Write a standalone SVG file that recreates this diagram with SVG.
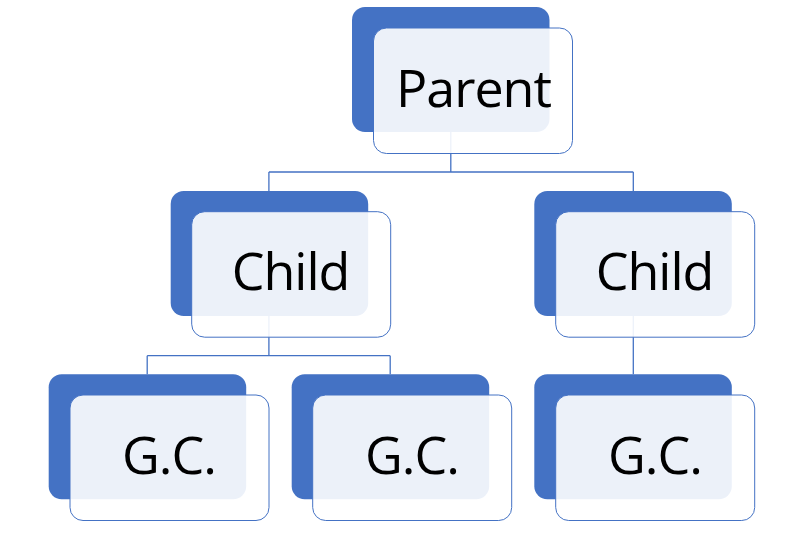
<svg xmlns="http://www.w3.org/2000/svg" width="800" height="543" viewBox="0 0 800 543">
<style>
.back{fill:#4472C4;}
.front{fill:#FFFFFF;fill-opacity:0.9;stroke:#4472C4;stroke-width:1;}
.lbl{font-family:"Open Sans","Noto Sans","DejaVu Sans",sans-serif;font-size:52px;letter-spacing:-1px;fill:#000000;text-anchor:middle;}
.conn{fill:none;stroke:#4472C4;stroke-width:1.3;}
</style>
<rect width="800" height="543" fill="#FFFFFF"/>
<g id="connectors">
<path class="conn" d="M450.8,132 V172 M268.9,172 H633.3 M268.9,172 V191 M633.3,172 V191"/>
<path class="conn" d="M268.9,315 V355.7 M147.2,355.7 H390.2 M147.2,355.7 V374.3 M390.2,355.7 V374.3"/>
<path class="conn" d="M633.3,315 V374.3"/>
</g>
<g id="parent">
<rect class="back" x="352" y="7" width="197.5" height="125" rx="13"/>
<rect class="front" x="373.5" y="28" width="199" height="125.5" rx="13"/>
<text class="lbl" x="473.5" y="107">Parent</text>
</g>
<g id="child-left">
<rect class="back" x="170.7" y="191" width="197.5" height="125" rx="13"/>
<rect class="front" x="191.7" y="211.7" width="199" height="125.5" rx="13"/>
<text class="lbl" x="290.5" y="290">Child</text>
</g>
<g id="child-right">
<rect class="back" x="534.3" y="191" width="197.5" height="125" rx="13"/>
<rect class="front" x="555.7" y="211.7" width="199" height="125.5" rx="13"/>
<text class="lbl" x="654.5" y="290">Child</text>
</g>
<g id="gc-left">
<rect class="back" x="48.7" y="374.3" width="197.5" height="125" rx="13"/>
<rect class="front" x="70" y="395" width="199" height="125.5" rx="13"/>
<text class="lbl" x="169" y="474">G.C.</text>
</g>
<g id="gc-middle">
<rect class="back" x="291.7" y="374.3" width="197.5" height="125" rx="13"/>
<rect class="front" x="312.7" y="395" width="199" height="125.5" rx="13"/>
<text class="lbl" x="412" y="474">G.C.</text>
</g>
<g id="gc-right">
<rect class="back" x="534.3" y="374.3" width="197.5" height="125" rx="13"/>
<rect class="front" x="555.7" y="395" width="199" height="125.5" rx="13"/>
<text class="lbl" x="655" y="474">G.C.</text>
</g>
</svg>
